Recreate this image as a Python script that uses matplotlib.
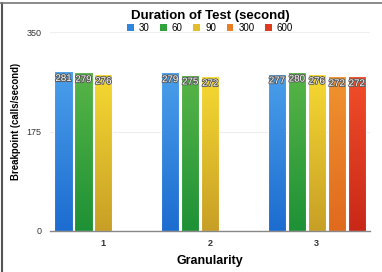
import matplotlib
matplotlib.use("Agg")
import matplotlib.pyplot as plt
import numpy as np
from matplotlib.patches import Rectangle, Patch
from matplotlib.colors import LinearSegmentedColormap
import matplotlib.patheffects as pe
from matplotlib.lines import Line2D

plt.rcParams['font.family'] = ['Liberation Sans', 'DejaVu Sans']

granularity = ["1", "2", "3"]
durations = ["30", "60", "90", "300", "600"]
values = {
    "30":  [281, 279, 277],
    "60":  [279, 275, 280],
    "90":  [276, 272, 276],
    "300": [None, None, 272],
    "600": [None, None, 272],
}
top_colors = ["#4a9fea", "#58b547", "#f6d932", "#f09330", "#f14e2a"]
bot_colors = ["#1d6cd0", "#1e9136", "#c89f26", "#e06a1e", "#c92818"]
legend_colors = ["#2f86dc", "#2fa23c", "#e3bd2a", "#ea7f26", "#dd3a20"]

fig = plt.figure(figsize=(3.82, 2.72), dpi=100)
ax = fig.add_axes([0.131, 0.151, 0.838, 0.731])
ax.set_xlim(-0.5, 2.5)
ax.set_ylim(0, 350)

slot = 0.187
bw = 0.17
x = np.arange(len(granularity))
grad = np.linspace(1, 0, 256).reshape(-1, 1)
for j, d in enumerate(durations):
    cmap = LinearSegmentedColormap.from_list(d, [bot_colors[j], top_colors[j]])
    for i, v in enumerate(values[d]):
        if v is None:
            continue
        cx = x[i] + (j - 2) * slot
        left = cx - bw / 2
        rect = Rectangle((left, 0), bw, v, facecolor='none', edgecolor='white', lw=0.8, zorder=3)
        ax.add_patch(rect)
        im = ax.imshow(grad, cmap=cmap, extent=(left, left + bw, 0, v), aspect='auto',
                       origin='upper', zorder=2, vmin=0, vmax=1)
        im.set_clip_path(rect)
        ax.text(cx, v - 3, str(v), ha='center', va='top', fontsize=7, color='white',
                zorder=4, path_effects=[pe.withStroke(linewidth=1.3, foreground='#555555')])

ax.set_aspect('auto')
ax.set_xlim(-0.5, 2.5)
ax.set_ylim(0, 350)
ax.set_yticks([0, 175, 350])
ax.set_yticklabels(["0", "175", "350"], fontsize=6.5, color='#333333')
ax.set_xticks(x)
ax.set_xticklabels(granularity, fontsize=6.5, fontweight='bold', color='#333333')
ax.tick_params(length=0, pad=6)
ax.grid(axis='y', color='#eeeeee', lw=0.8, zorder=0)
ax.set_axisbelow(True)
for s in ['top', 'right', 'left']:
    ax.spines[s].set_visible(False)
ax.spines['bottom'].set_color('#888888')
ax.spines['bottom'].set_linewidth(1.0)
ax.spines['bottom'].set_zorder(5)

ax.set_xlabel("Granularity", fontsize=9, fontweight='bold', labelpad=5)
ax.set_ylabel("Breakpoint (calls/second)", fontsize=6.9, fontweight='bold', labelpad=4, y=0.55)

fig.text(0.55, 0.943, "Duration of Test (second)", ha='center', va='center',
         fontsize=9.5, fontweight='bold')
handles = [Patch(facecolor=c, edgecolor='none') for c in legend_colors]
fig.legend(handles, durations, loc='center', bbox_to_anchor=(0.55, 0.897), ncol=5,
           frameon=False, fontsize=7, handlelength=0.7, handleheight=0.7,
           handletextpad=0.5, columnspacing=1.1, borderpad=0)

# frame lines
fig.add_artist(Line2D([0.004, 0.004], [0, 0.99], transform=fig.transFigure, color='#555555', lw=1.5))
fig.add_artist(Line2D([0.0, 1.0], [0.99, 0.99], transform=fig.transFigure, color='#777777', lw=1.2))

fig.savefig("out.png", dpi=100)
